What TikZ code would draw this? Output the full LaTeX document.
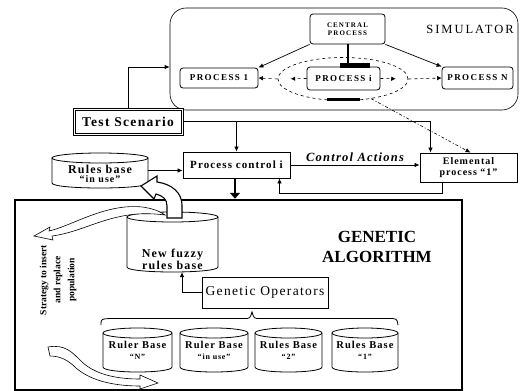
\documentclass[tikz,border=0pt]{standalone}
\usepackage{fontspec}
\setmainfont{Liberation Serif}[LetterSpace=10]
\newfontfamily\widefont{Liberation Serif}[LetterSpace=16]
\newfontfamily\plainfont{Liberation Serif}
\usetikzlibrary{arrows.meta,shapes.geometric,calc}
\newcommand{\cylbox}[5]{%
 \pgfmathsetmacro\cyA{(#2+#4)/2}%
 \pgfmathsetmacro\cyB{(#3+#5)/2}%
 \pgfmathsetmacro\cyR{(#4-#2)/2}%
 \pgfmathsetmacro\cyT{#3+5}%
 \pgfmathsetmacro\cyU{#5-5}%
 \pgfmathsetmacro\cyC{#5+1.67}%
 \pgfmathsetmacro\cyW{#4-#2}%
 \pgfmathsetmacro\cyH{#5-#3}%
 \fill[white] (#2,\cyT) -- (#2,\cyU) .. controls (#2,\cyC) and (#4,\cyC) .. (#4,\cyU) -- (#4,\cyT) -- cycle;
 \draw[cylline] (#2,\cyT) -- (#2,\cyU) .. controls (#2,\cyC) and (#4,\cyC) .. (#4,\cyU) -- (#4,\cyT);
 \draw[cylline, fill=white] (\cyA,\cyT) ellipse [x radius=\cyR, y radius=5];
 \node[minimum width=\cyW pt, minimum height=\cyH pt, inner sep=0] (#1) at (\cyA,\cyB) {};
}
\begin{document}
\begin{tikzpicture}[x=1pt,y=-1pt,
  box/.style={draw, line width=0.8pt, inner sep=0, fill=white},
  rbox/.style={box, rounded corners=3pt},
  cylline/.style={line width=0.8pt},
  arr/.style={line width=0.7pt, -{Latex[length=5pt,width=4.5pt]}},
  thickarr/.style={line width=2.5pt, -{Triangle[length=6pt,width=10pt]}},
  dasharr/.style={line width=0.6pt, dashed, -{Latex[length=4.5pt,width=4.5pt]}},
  ribbon/.style={line width=0.6pt, fill=white},
  small/.style={font=\widefont\bfseries\fontsize{7}{7.5}\selectfont, align=center},
  proc/.style={font=\widefont\bfseries\fontsize{9}{10}\selectfont},
]
\useasboundingbox (0,0) rectangle (520,391);

% ---------- SIMULATOR ----------
\node[draw, line width=0.6pt, rounded corners=16pt, minimum width=348pt, minimum height=102pt] (sim) at (344,59) {};
\node[font=\widefont\fontsize{12.5}{13}\selectfont] (simt) at (470,29) {SIMULATOR};
\node[rbox, minimum width=75pt, minimum height=30pt, small] (cp) at (347.5,29) {CENTRAL\\PROCESS};
\node[draw, dashed, line width=0.6pt, ellipse, inner sep=0, minimum width=130pt, minimum height=43pt] (ell) at (343,79) {};
\node[rbox, minimum width=78pt, minimum height=20pt, proc] (p1) at (219,78) {PROCESS 1};
\node[rbox, minimum width=73pt, minimum height=23pt, proc] (pi) at (343.5,78.5) {PROCESS i};
\node[rbox, minimum width=71pt, minimum height=22pt, proc] (pN) at (477.5,78) {PROCESS N};

\draw[arr] (cp.south west) -- (p1.north east);
\draw[arr] (cp.south east) -- (pN.north west);
\draw[line width=2pt] (cp.south) -- (cp.south |- pi.north);
\fill (340,63) rectangle (370,67.5);
\fill (327,98) rectangle (360,101);
\draw[dasharr] (pi.west) -- ($(pi.west)!0.55!(ell.west)$);
\draw[dasharr] (ell.west) -- (p1.east);
\draw[dasharr] (pi.east) -- ($(pi.east)!0.55!(ell.east)$);
\draw[dasharr] (ell.east) -- (pN.west);

% ---------- middle row ----------
\node[box, line width=0.7pt, minimum width=110pt, minimum height=27pt,
      font=\bfseries\fontsize{13.5}{14}\selectfont] (test) at (128,121.5) {Test Scenario};
\draw[line width=0.6pt] ([xshift=2.2pt,yshift=-2.2pt]test.north west) rectangle ([xshift=-2.2pt,yshift=2.2pt]test.south east);
\draw[arr] (test.north) |- ([yshift=-8pt]sim.west);

\node[box, minimum width=107pt, minimum height=26pt, font=\bfseries\fontsize{11}{12}\selectfont] (pc) at (236.5,165) {Process control i};
\node[box, minimum width=97pt, minimum height=29pt, align=center, font=\bfseries\fontsize{10}{11}\selectfont] (elem) at (468.5,167.5) {Elemental\\process “1”};

\draw[arr] (test.east) -| ([xshift=-38pt]elem.north);
\draw[arr] (pc.north |- test.east) -- (pc.north);
\draw[line width=0.6pt, dash pattern=on 3pt off 2pt on 1pt off 2pt, -{Latex[length=5pt,width=4.5pt]}] (ell.-35) -- ([xshift=2pt]elem.north);
\draw[arr] (pc.east) -- node[above=0pt, font=\bfseries\itshape\fontsize{12.5}{13}\selectfont] (ca) {Control Actions} (elem.west |- pc.east);
\draw[arr] ([xshift=-26pt]elem.south) -- ++(0,11) -| ([xshift=43pt]pc.south);

\cylbox{rbu}{52}{153}{148}{188}
\node[align=center, font=\bfseries\fontsize{12}{9.5}\selectfont] (rbut) at (100,174) {Rules base\\{\fontsize{10}{10}\selectfont “in use”}};
\draw[arr] (rbu.east) -- (pc.west |- rbu.east);

% ---------- GENETIC ALGORITHM ----------
\node[draw, line width=2.5pt, minimum width=447pt, minimum height=190pt, inner sep=0] (ga) at (238.5,295) {};
\draw[thickarr] ([xshift=-1.5pt]pc.south) -- ([xshift=-1.5pt]pc.south |- ga.north);
\node[align=center, font=\plainfont\bfseries\fontsize{17}{20}\selectfont] (gat) at (377,247) {GENETIC\\ALGORITHM};

\cylbox{nfr}{127}{212}{218}{272}
\node[align=center, font=\bfseries\fontsize{12}{10.5}\selectfont] (nfrt) at (172.5,259) {New fuzzy\\rules base};

% hollow pipe arrow from new rules base up to rules base in use
\filldraw[line width=1.1pt, fill=white] (167,218) -- (167,206) .. controls (167,199) and (163,196) .. (156,194) -- (154,199) -- (141,186) -- (157,176) -- (157,182) .. controls (172,184) and (182,193) .. (182,205) -- (182,218) -- cycle;

\node[box, minimum width=126pt, minimum height=31pt, font=\fontsize{13.5}{14}\selectfont] (go) at (265,292.5) {Genetic Operators};
\draw[arr] (go.west) -| ([xshift=9.5pt]nfr.south);

% brace over the population
\draw[line width=0.8pt] (101,325) .. controls (101,319) .. (110,318.5) -- (244,318.5) .. controls (250,318.5) .. (252,312) .. controls (254,318.5) .. (260,318.5) -- (388,318.5) .. controls (397,318.5) .. (398,325);

\cylbox{c1}{103}{328}{172}{372}
\cylbox{c2}{180}{328}{248}{372}
\cylbox{c3}{255}{328}{322}{372}
\cylbox{c4}{332}{328}{398}{372}
\node[align=center, font=\bfseries\fontsize{10.5}{11}\selectfont] (c1t) at (137.5,350) {Ruler Base\\{\fontsize{8}{8}\selectfont “N”}};
\node[align=center, font=\bfseries\fontsize{10.5}{11}\selectfont] (c2t) at (214,350) {Ruler Base\\{\fontsize{8}{8}\selectfont “in use”}};
\node[align=center, font=\bfseries\fontsize{10.5}{11}\selectfont] (c3t) at (288.5,350) {Rules Base\\{\fontsize{8}{8}\selectfont “2”}};
\node[align=center, font=\bfseries\fontsize{10.5}{11}\selectfont] (c4t) at (365,350) {Rules Base\\{\fontsize{8}{8}\selectfont “1”}};

% strategy ribbons and text
\filldraw[ribbon] (34,236) -- (50,227) -- (49,231) .. controls (70,226) and (95,210) .. (125,207) .. controls (145,205) and (158,210) .. (165,215) .. controls (150,213) and (135,213) .. (118,217) .. controls (95,222) and (75,233) .. (52,236) -- (53,240) -- cycle;
\filldraw[ribbon] (48,347) .. controls (65,344) and (72,352) .. (82,362) .. controls (95,374) and (115,379) .. (140,379) -- (140,375) -- (158,383) -- (140,389) -- (140,386) .. controls (112,386) and (90,380) .. (76,368) .. controls (68,360) and (60,356) .. (50,356) -- cycle;
\node[rotate=90, align=center, font=\plainfont\bfseries\fontsize{9.5}{14}\selectfont] (strat) at (58,280) {Strategy to insert\\and replace\\population};
\end{tikzpicture}
\end{document}
